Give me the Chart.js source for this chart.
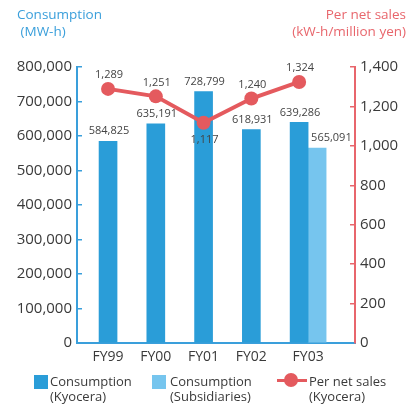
<!DOCTYPE html>
<html>
<head>
<meta charset="utf-8">
<script src="https://cdn.jsdelivr.net/npm/chart.js@4.4.0/dist/chart.umd.min.js"></script>
<style>
  body { margin: 0; background: #fff; font-family: 'Open Sans', sans-serif; color: #3a3a3a; }
  #wrap { position: relative; width: 420px; height: 408px; overflow: hidden; }
  #chart { position: absolute; left: 0; top: 0; }
  .ttl { position: absolute; top: 6px; font-size: 13.5px; line-height: 17px; white-space: pre; }
  .ttl.left { left: 17px; color: #3a9fdb; }
  .ttl.right { right: 14px; color: #e8666c; text-align: right; }
  .lg { position: absolute; font-size: 13px; line-height: 15px; white-space: pre; top: 374px; }
  .sw { position: absolute; top: 375px; width: 14px; height: 14px; }
  .lnm { position: absolute; left: 277px; top: 379px; width: 30px; height: 3px; background: #e45a5e; }
  .dot { position: absolute; left: 284px; top: 373px; width: 14px; height: 14px; border-radius: 50%; background: #e45a5e; }
</style>
</head>
<body>
<div id="wrap">
  <canvas id="chart" width="420" height="408"></canvas>
  <div class="ttl left">Consumption
 (MW-h)</div>
  <div class="ttl right">Per net sales
(kW-h/million yen)</div>

  <div class="sw" style="left:34px;background:#2a9dd8"></div>
  <div class="lg" style="left:50px">Consumption
(Kyocera)</div>
  <div class="sw" style="left:152px;background:#76c5ee"></div>
  <div class="lg" style="left:170px">Consumption
(Subsidiaries)</div>
  <div class="lnm"></div><div class="dot"></div>
  <div class="lg" style="left:309px">Per net sales
(Kyocera)</div>
</div>
<script>
const labels = ['FY99', 'FY00', 'FY01', 'FY02', 'FY03'];
const kyocera = [584825, 635191, 728799, 618931, 639286];
const subsidiaries = [null, null, null, null, 565091];
const perSales = [1289, 1251, 1117, 1240, 1324];

const leftMax = 800000, leftStep = 100000;
const rightMax = 1400, rightStep = 200;

// layout
const leftW = 77, rightW = 65, bottomH = 65, topPad = 67;
const plotW = 420 - leftW - rightW;
const xMin = -0.65, xMax = 5.17;
const barW = 18;
const barUnits = barW * (xMax - xMin) / plotW;

const blue = '#2a9dd8', lightBlue = '#76c5ee', red = '#e45a5e';
const axisBlue = '#3a9fdb', axisRed = '#e8666c';
const txt = '#3a3a3a';

const pts = arr => arr.map((v, i) => ({ x: i, y: v })).filter(p => p.y != null);

// value labels above bars and points
const valueLabels = {
  id: 'valueLabels',
  afterDatasetsDraw(chart) {
    const ctx = chart.ctx;
    ctx.save();
    ctx.font = '11px "Open Sans"';
    ctx.fillStyle = '#444';
    ctx.textBaseline = 'middle';
    chart.data.datasets.forEach((ds, di) => {
      const meta = chart.getDatasetMeta(di);
      meta.data.forEach((el, i) => {
        const v = ds.data[i].y;
        const s = v.toLocaleString('en-US');
        if (ds.type === 'line') {
          const vals = ds.data.map(d => d.y);
          const prev = vals[i - 1], next = vals[i + 1];
          const isLow = (prev == null || v < prev) && (next == null || v < next);
          ctx.textAlign = 'center';
          ctx.fillText(s, el.x + 1, isLow ? el.y + 17 : el.y - 14);
        } else if (ds.labelShift) {
          ctx.textAlign = 'left';
          ctx.fillText(s, el.x - barW / 2 + 3, el.y - 10);
        } else {
          ctx.textAlign = 'center';
          ctx.fillText(s, el.x + 1, el.y - 10);
        }
      });
    });
    ctx.restore();
  }
};

new Chart(document.getElementById('chart'), {
  type: 'bar',
  data: {
    datasets: [
      {
        type: 'line',
        label: 'Per net sales (Kyocera)',
        data: pts(perSales),
        xAxisID: 'x',
        yAxisID: 'y1',
        borderColor: red,
        backgroundColor: red,
        borderWidth: 4,
        pointRadius: 7,
        pointBorderWidth: 0,
        pointBackgroundColor: red,
        order: 0
      },
      {
        label: 'Consumption (Kyocera)',
        data: pts(kyocera),
        xAxisID: 'x',
        yAxisID: 'y',
        backgroundColor: blue,
        barThickness: barW,
        grouped: false,
        order: 1
      },
      {
        label: 'Consumption (Subsidiaries)',
        data: pts(subsidiaries),
        xAxisID: 'x2',
        yAxisID: 'y',
        backgroundColor: lightBlue,
        barThickness: barW,
        grouped: false,
        labelShift: true,
        order: 1
      }
    ]
  },
  options: {
    responsive: false,
    animation: false,
    layout: { padding: { top: topPad, left: 0, right: 0, bottom: 0 } },
    plugins: { legend: { display: false }, tooltip: { enabled: false } },
    scales: {
      x: {
        type: 'linear',
        position: 'bottom',
        offset: false,
        min: xMin,
        max: xMax,
        afterBuildTicks: s => {
          s.ticks = labels.map((l, i) => ({ value: i + (subsidiaries[i] != null ? barUnits / 2 : 0) }));
        },
        afterFit: s => { s.height = bottomH; },
        grid: { display: false, drawTicks: false },
        border: { display: true, color: axisBlue, width: 2 },
        ticks: {
          autoSkip: false,
          maxRotation: 0,
          padding: 6,
          color: txt,
          font: { family: 'Open Sans', size: 14 },
          callback: v => labels[Math.round(v)]
        }
      },
      x2: {
        type: 'linear',
        display: false,
        offset: false,
        min: xMin - barUnits,
        max: xMax - barUnits
      },
      y: {
        position: 'left',
        min: 0,
        max: leftMax,
        afterFit: s => { s.width = leftW; },
        grid: { drawOnChartArea: false, color: axisBlue, lineWidth: 1.5, tickLength: -5 },
        border: { display: true, color: axisBlue, width: 2 },
        ticks: {
          stepSize: leftStep,
          padding: 10,
          color: txt,
          font: { family: 'Open Sans', size: 15 },
          callback: v => v.toLocaleString('en-US')
        }
      },
      y1: {
        position: 'right',
        min: 0,
        max: rightMax,
        afterFit: s => { s.width = rightW; },
        grid: { drawOnChartArea: false, color: axisRed, lineWidth: 1.5, tickLength: -5 },
        border: { display: true, color: axisRed, width: 2 },
        ticks: {
          stepSize: rightStep,
          padding: 10,
          color: txt,
          font: { family: 'Open Sans', size: 15 },
          callback: v => v.toLocaleString('en-US')
        }
      }
    }
  },
  plugins: [valueLabels]
});
</script>
</body>
</html>
